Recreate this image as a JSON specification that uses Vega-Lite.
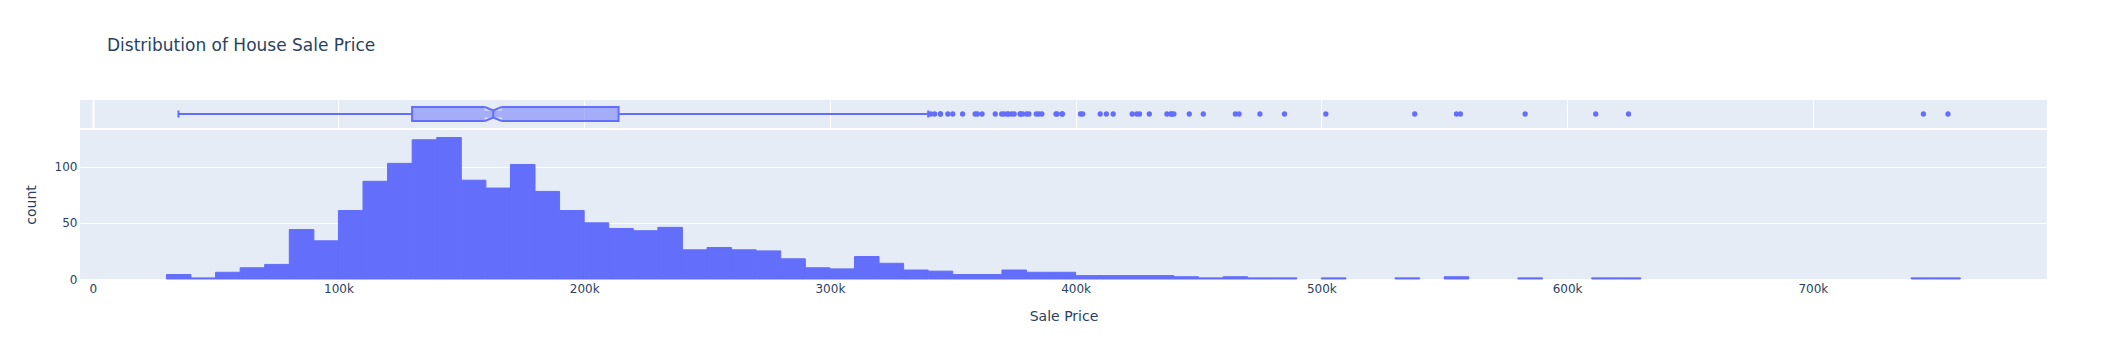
{
  "$schema": "https://vega.github.io/schema/vega-lite/v6.json",
  "background": "white",
  "padding": {"left": 24, "top": 37, "right": 0, "bottom": 0},
  "title": {"text": "Distribution of House Sale Price", "anchor": "start", "frame": "group", "font": "DejaVu Sans", "fontSize": 17, "fontWeight": "normal", "color": "#2a3f5f", "baseline": "alphabetic", "offset": 32, "dx": 27},
  "spacing": 2,
  "config": {
    "view": {"fill": "#E5ECF6", "stroke": null},
    "font": "DejaVu Sans",
    "axis": {"labelColor": "#2a3f5f", "titleColor": "#2a3f5f", "labelFont": "DejaVu Sans", "titleFont": "DejaVu Sans", "labelFontSize": 12, "titleFontSize": 14, "titleFontWeight": "normal", "domain": false, "ticks": false, "gridColor": "#ffffff", "gridOpacity": 1, "gridWidth": 1}
  },
  "datasets": {
    "box": [{"min": 34900, "q1": 129975, "notch_lo": 159548, "median": 163000, "notch_hi": 166452, "q3": 214000, "max": 340000}],
    "outliers": [
      {"price": 341000}, {"price": 342643}, {"price": 345000}, {"price": 345000}, {"price": 348000}, {"price": 350000}, {"price": 354000}, {"price": 359100}, {"price": 360000}, {"price": 361919}, {"price": 367294}, {"price": 369900}, {"price": 370878}, {"price": 372402}, {"price": 372500}, {"price": 374000}, {"price": 375000}, {"price": 377426}, {"price": 377500}, {"price": 378500}, {"price": 380000}, {"price": 381000}, {"price": 383970}, {"price": 385000}, {"price": 386250}, {"price": 392000}, {"price": 392500}, {"price": 394432}, {"price": 394617}, {"price": 402000}, {"price": 402861}, {"price": 410000}, {"price": 412500}, {"price": 415298}, {"price": 423000}, {"price": 424870}, {"price": 426000}, {"price": 430000}, {"price": 437154}, {"price": 438780}, {"price": 439000}, {"price": 440000}, {"price": 446261}, {"price": 451950}, {"price": 465000}, {"price": 466500}, {"price": 475000}, {"price": 485000}, {"price": 501837}, {"price": 538000}, {"price": 555000}, {"price": 556581}, {"price": 582933}, {"price": 611657}, {"price": 625000}, {"price": 745000}, {"price": 755000}
    ],
    "hist": [
      {"bin_start": 30000, "bin_end": 40000, "count": 4}, {"bin_start": 40000, "bin_end": 50000, "count": 1}, {"bin_start": 50000, "bin_end": 60000, "count": 6}, {"bin_start": 60000, "bin_end": 70000, "count": 10}, {"bin_start": 70000, "bin_end": 80000, "count": 13}, {"bin_start": 80000, "bin_end": 90000, "count": 44}, {"bin_start": 90000, "bin_end": 100000, "count": 34}, {"bin_start": 100000, "bin_end": 110000, "count": 61}, {"bin_start": 110000, "bin_end": 120000, "count": 87}, {"bin_start": 120000, "bin_end": 130000, "count": 103}, {"bin_start": 130000, "bin_end": 140000, "count": 124}, {"bin_start": 140000, "bin_end": 150000, "count": 126}, {"bin_start": 150000, "bin_end": 160000, "count": 88}, {"bin_start": 160000, "bin_end": 170000, "count": 81}, {"bin_start": 170000, "bin_end": 180000, "count": 102}, {"bin_start": 180000, "bin_end": 190000, "count": 78}, {"bin_start": 190000, "bin_end": 200000, "count": 61}, {"bin_start": 200000, "bin_end": 210000, "count": 50}, {"bin_start": 210000, "bin_end": 220000, "count": 45}, {"bin_start": 220000, "bin_end": 230000, "count": 43}, {"bin_start": 230000, "bin_end": 240000, "count": 46}, {"bin_start": 240000, "bin_end": 250000, "count": 26}, {"bin_start": 250000, "bin_end": 260000, "count": 28}, {"bin_start": 260000, "bin_end": 270000, "count": 26}, {"bin_start": 270000, "bin_end": 280000, "count": 25}, {"bin_start": 280000, "bin_end": 290000, "count": 18}, {"bin_start": 290000, "bin_end": 300000, "count": 10}, {"bin_start": 300000, "bin_end": 310000, "count": 9}, {"bin_start": 310000, "bin_end": 320000, "count": 20}, {"bin_start": 320000, "bin_end": 330000, "count": 14}, {"bin_start": 330000, "bin_end": 340000, "count": 8}, {"bin_start": 340000, "bin_end": 350000, "count": 7}, {"bin_start": 350000, "bin_end": 360000, "count": 4}, {"bin_start": 360000, "bin_end": 370000, "count": 4}, {"bin_start": 370000, "bin_end": 380000, "count": 8}, {"bin_start": 380000, "bin_end": 390000, "count": 6}, {"bin_start": 390000, "bin_end": 400000, "count": 6}, {"bin_start": 400000, "bin_end": 410000, "count": 3}, {"bin_start": 410000, "bin_end": 420000, "count": 3}, {"bin_start": 420000, "bin_end": 430000, "count": 3}, {"bin_start": 430000, "bin_end": 440000, "count": 3}, {"bin_start": 440000, "bin_end": 450000, "count": 2}, {"bin_start": 450000, "bin_end": 460000, "count": 1}, {"bin_start": 460000, "bin_end": 470000, "count": 2}, {"bin_start": 470000, "bin_end": 480000, "count": 1}, {"bin_start": 480000, "bin_end": 490000, "count": 1}, {"bin_start": 500000, "bin_end": 510000, "count": 1}, {"bin_start": 530000, "bin_end": 540000, "count": 1}, {"bin_start": 550000, "bin_end": 560000, "count": 2}, {"bin_start": 580000, "bin_end": 590000, "count": 1}, {"bin_start": 610000, "bin_end": 620000, "count": 1}, {"bin_start": 620000, "bin_end": 630000, "count": 1}, {"bin_start": 740000, "bin_end": 750000, "count": 1}, {"bin_start": 750000, "bin_end": 760000, "count": 1}
    ]
  },
  "vconcat": [
    {
      "width": 1967,
      "height": 28,
      "data": {"name": "box"},
      "encoding": {
        "x": {"type": "quantitative", "scale": {"domain": [-5170, 795300], "nice": false, "zero": false},
              "axis": {"values": [0, 100000, 200000, 300000, 400000, 500000, 600000, 700000], "labels": false, "title": null, "grid": true, "gridWidth": {"condition": {"test": "datum.value === 0", "value": 2}, "value": 1}}},
        "y": {"type": "quantitative", "scale": {"domain": [-1, 1], "nice": false, "zero": false}, "axis": null}
      },
      "layer": [
        {"mark": {"type": "rect", "fill": "#636efa", "fillOpacity": 0.5, "strokeWidth": 0}, "encoding": {"x": {"field": "q1"}, "x2": {"field": "notch_lo"}, "y": {"datum": -0.5}, "y2": {"datum": 0.5}}},
        {"mark": {"type": "rect", "fill": "#636efa", "fillOpacity": 0.5, "strokeWidth": 0}, "encoding": {"x": {"field": "notch_hi"}, "x2": {"field": "q3"}, "y": {"datum": -0.5}, "y2": {"datum": 0.5}}},
        {"mark": {"type": "rect", "fill": "#636efa", "fillOpacity": 0.5, "strokeWidth": 0}, "encoding": {"x": {"field": "notch_lo"}, "x2": {"field": "notch_hi"}, "y": {"datum": -0.25}, "y2": {"datum": 0.25}}},
        {"mark": {"type": "rule", "color": "#636efa", "strokeWidth": 2}, "encoding": {"x": {"field": "min"}, "x2": {"field": "q1"}, "y": {"datum": 0}}},
        {"mark": {"type": "rule", "color": "#636efa", "strokeWidth": 2}, "encoding": {"x": {"field": "q3"}, "x2": {"field": "max"}, "y": {"datum": 0}}},
        {"mark": {"type": "rule", "color": "#636efa", "strokeWidth": 2}, "encoding": {"x": {"field": "min"}, "y": {"datum": -0.25}, "y2": {"datum": 0.25}}},
        {"mark": {"type": "rule", "color": "#636efa", "strokeWidth": 2}, "encoding": {"x": {"field": "max"}, "y": {"datum": -0.25}, "y2": {"datum": 0.25}}},
        {"mark": {"type": "rule", "color": "#636efa", "strokeWidth": 2, "strokeCap": "square"}, "encoding": {"x": {"field": "q1"}, "y": {"datum": -0.5}, "y2": {"datum": 0.5}}},
        {"mark": {"type": "rule", "color": "#636efa", "strokeWidth": 2, "strokeCap": "square"}, "encoding": {"x": {"field": "q3"}, "y": {"datum": -0.5}, "y2": {"datum": 0.5}}},
        {"mark": {"type": "rule", "color": "#636efa", "strokeWidth": 2}, "encoding": {"x": {"field": "q1"}, "x2": {"field": "notch_lo"}, "y": {"datum": 0.5}}},
        {"mark": {"type": "rule", "color": "#636efa", "strokeWidth": 2}, "encoding": {"x": {"field": "q1"}, "x2": {"field": "notch_lo"}, "y": {"datum": -0.5}}},
        {"mark": {"type": "rule", "color": "#636efa", "strokeWidth": 2}, "encoding": {"x": {"field": "notch_hi"}, "x2": {"field": "q3"}, "y": {"datum": 0.5}}},
        {"mark": {"type": "rule", "color": "#636efa", "strokeWidth": 2}, "encoding": {"x": {"field": "notch_hi"}, "x2": {"field": "q3"}, "y": {"datum": -0.5}}},
        {"mark": {"type": "rule", "color": "#636efa", "strokeWidth": 2}, "encoding": {"x": {"field": "notch_lo"}, "x2": {"field": "median"}, "y": {"datum": 0.5}, "y2": {"datum": 0.25}}},
        {"mark": {"type": "rule", "color": "#636efa", "strokeWidth": 2}, "encoding": {"x": {"field": "notch_lo"}, "x2": {"field": "median"}, "y": {"datum": -0.5}, "y2": {"datum": -0.25}}},
        {"mark": {"type": "rule", "color": "#636efa", "strokeWidth": 2}, "encoding": {"x": {"field": "median"}, "x2": {"field": "notch_hi"}, "y": {"datum": 0.25}, "y2": {"datum": 0.5}}},
        {"mark": {"type": "rule", "color": "#636efa", "strokeWidth": 2}, "encoding": {"x": {"field": "median"}, "x2": {"field": "notch_hi"}, "y": {"datum": -0.25}, "y2": {"datum": -0.5}}},
        {"mark": {"type": "rule", "color": "#636efa", "strokeWidth": 2}, "encoding": {"x": {"field": "median"}, "y": {"datum": -0.25}, "y2": {"datum": 0.25}}},
        {"data": {"name": "outliers"}, "mark": {"type": "point", "filled": true, "color": "#636efa", "opacity": 1, "size": 28}, "encoding": {"x": {"field": "price", "type": "quantitative"}, "y": {"datum": 0}}}
      ]
    },
    {
      "width": 1967,
      "height": 149,
      "data": {"name": "hist"},
      "mark": {"type": "rect", "fill": "#636efa", "opacity": 1, "stroke": "#636efa", "strokeWidth": 1},
      "encoding": {
        "x": {"field": "bin_start", "type": "quantitative", "scale": {"domain": [-5170, 795300], "nice": false, "zero": false},
              "axis": {"values": [0, 100000, 200000, 300000, 400000, 500000, 600000, 700000], "labelExpr": "datum.value === 0 ? '0' : format(datum.value / 1000, 'd') + 'k'", "grid": false, "labelPadding": 4, "title": "Sale Price", "titlePadding": 15}},
        "x2": {"field": "bin_end"},
        "y": {"field": "count", "type": "quantitative", "scale": {"domain": [0, 132.7], "nice": false},
              "axis": {"values": [0, 50, 100], "grid": true, "labelPadding": 3, "title": "count", "titlePadding": 15.5}}
      }
    }
  ]
}
